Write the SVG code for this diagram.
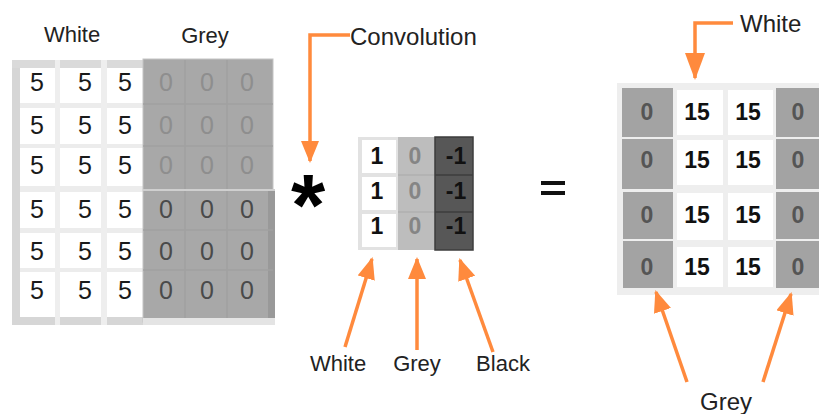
<svg xmlns="http://www.w3.org/2000/svg" width="819" height="414" viewBox="0 0 819 414">
<defs>
<marker id="ah" viewBox="0 0 22 18" refX="20" refY="9" markerWidth="22" markerHeight="18" markerUnits="userSpaceOnUse" orient="auto">
<path d="M0,0 L22,9 L0,18 z" fill="#ff8a3d"/>
</marker>
<marker id="ahL" viewBox="0 0 27 20" refX="25" refY="10" markerWidth="27" markerHeight="20" markerUnits="userSpaceOnUse" orient="auto">
<path d="M0,0 L27,10 L0,20 z" fill="#ff8a3d"/>
</marker>
</defs>
<style>
text{font-family:"Liberation Sans",Arial,sans-serif;}
.lbl{font-size:22px;fill:#222;}
.big{font-size:24px;fill:#222;}
.five{font-size:25px;fill:#1a1a1a;text-anchor:middle;}
.z1{font-size:25px;fill:#8e8e8e;text-anchor:middle;}
.z2{font-size:25px;fill:#4a4a4a;text-anchor:middle;}
.wc{fill:#ffffff;}
.k{font-size:23px;font-weight:bold;text-anchor:middle;}
.r15{font-size:23px;font-weight:bold;fill:#111;text-anchor:middle;}
.r0{font-size:23px;font-weight:bold;fill:#555;text-anchor:middle;}
.arr{fill:none;stroke:#ff8a3d;stroke-width:3.5;}
</style>
<rect width="819" height="414" fill="#ffffff"/>

<g id="input-image">
<rect x="12" y="60" width="131" height="265" fill="#ececec"/>
<rect x="12" y="60" width="8" height="265" fill="#d6d6d6"/>
<rect x="12" y="60" width="131" height="8" fill="#dadada"/>
<rect x="12" y="317" width="131" height="8" fill="#d6d6d6"/>
<rect x="55" y="60" width="5" height="265" fill="#eeeeee"/>
<rect x="101" y="60" width="6" height="265" fill="#eeeeee"/>
<g class="wc">
<rect x="20" y="68" width="35" height="35"/><rect x="60" y="68" width="41" height="35"/><rect x="107" y="68" width="36" height="35"/>
<rect x="20" y="108" width="35" height="36"/><rect x="60" y="108" width="41" height="36"/><rect x="107" y="108" width="36" height="36"/>
<rect x="20" y="148" width="35" height="38"/><rect x="60" y="148" width="41" height="38"/><rect x="107" y="148" width="36" height="38"/>
<rect x="20" y="192" width="35" height="36"/><rect x="60" y="192" width="41" height="36"/><rect x="107" y="192" width="36" height="36"/>
<rect x="20" y="233" width="35" height="35"/><rect x="60" y="233" width="41" height="35"/><rect x="107" y="233" width="36" height="35"/>
<rect x="20" y="272" width="35" height="45"/><rect x="60" y="272" width="41" height="45"/><rect x="107" y="272" width="36" height="45"/>
</g>
<rect x="143" y="59" width="130" height="263" fill="#a8a8a8" stroke="#c4c4c4" stroke-width="1"/>
<rect x="268" y="190" width="7" height="135" fill="#999999"/>
<rect x="143" y="318" width="132" height="7" fill="#e4e4e4"/>
<g stroke="#a0a0a0" stroke-width="1.5">
<line x1="185" y1="60" x2="185" y2="318"/>
<line x1="227" y1="60" x2="227" y2="318"/>
<line x1="143" y1="104" x2="273" y2="104"/>
<line x1="143" y1="146" x2="273" y2="146"/>
<line x1="143" y1="230" x2="273" y2="230"/>
<line x1="143" y1="270" x2="273" y2="270"/>
</g>
<line x1="143" y1="190" x2="275" y2="190" stroke="#cfcfcf" stroke-width="2"/>
<g>
<text class="five" x="37" y="91">5</text><text class="five" x="85" y="91">5</text><text class="five" x="125" y="91">5</text>
<text class="five" x="37" y="134">5</text><text class="five" x="85" y="134">5</text><text class="five" x="125" y="134">5</text>
<text class="five" x="37" y="174">5</text><text class="five" x="85" y="174">5</text><text class="five" x="125" y="174">5</text>
<text class="five" x="37" y="218">5</text><text class="five" x="85" y="218">5</text><text class="five" x="125" y="218">5</text>
<text class="five" x="37" y="260">5</text><text class="five" x="85" y="260">5</text><text class="five" x="125" y="260">5</text>
<text class="five" x="37" y="299">5</text><text class="five" x="85" y="299">5</text><text class="five" x="125" y="299">5</text>
<text class="z1" x="166" y="91">0</text><text class="z1" x="207" y="91">0</text><text class="z1" x="247" y="91">0</text>
<text class="z1" x="166" y="134">0</text><text class="z1" x="207" y="134">0</text><text class="z1" x="247" y="134">0</text>
<text class="z1" x="166" y="174">0</text><text class="z1" x="207" y="174">0</text><text class="z1" x="247" y="174">0</text>
<text class="z2" x="166" y="218">0</text><text class="z2" x="207" y="218">0</text><text class="z2" x="247" y="218">0</text>
<text class="z2" x="166" y="260">0</text><text class="z2" x="207" y="260">0</text><text class="z2" x="247" y="260">0</text>
<text class="z2" x="166" y="299">0</text><text class="z2" x="207" y="299">0</text><text class="z2" x="247" y="299">0</text>
</g>
<text class="lbl" x="72" y="42" text-anchor="middle">White</text>
<text class="lbl" x="205" y="43" text-anchor="middle">Grey</text>
</g>

<g id="convolution-operator">
<text x="308" y="235" font-size="88" font-weight="bold" fill="#000" text-anchor="middle">*</text>
<text class="big" x="350" y="45">Convolution</text>
</g>

<g id="kernel">
<rect x="358" y="137" width="40" height="113" fill="#e2e2e2"/>
<rect x="362" y="140" width="34" height="33" fill="#fff"/>
<rect x="362" y="177" width="34" height="33" fill="#fff"/>
<rect x="362" y="214" width="34" height="33" fill="#fff"/>
<rect x="398" y="137" width="37" height="113" fill="#bdbdbd"/>
<g stroke="#b0b0b0" stroke-width="1.5"><line x1="398" y1="175" x2="435" y2="175"/><line x1="398" y1="212" x2="435" y2="212"/></g>
<rect x="435" y="137" width="38" height="113" fill="#575757" stroke="#3c3c3c" stroke-width="1.5"/>
<g stroke="#3c3c3c" stroke-width="1.5"><line x1="435" y1="175" x2="473" y2="175"/><line x1="435" y1="212" x2="473" y2="212"/></g>
<text class="k" x="377" y="164" fill="#111">1</text><text class="k" x="377" y="199" fill="#111">1</text><text class="k" x="377" y="234" fill="#111">1</text>
<text class="k" x="415" y="164" fill="#858585" font-weight="normal">0</text><text class="k" x="415" y="199" fill="#858585" font-weight="normal">0</text><text class="k" x="415" y="234" fill="#858585" font-weight="normal">0</text>
<text class="k" x="456" y="164" fill="#111" font-weight="normal">-1</text><text class="k" x="456" y="199" fill="#111" font-weight="normal">-1</text><text class="k" x="456" y="234" fill="#111" font-weight="normal">-1</text>
</g>

<g id="equals">
<rect x="541" y="181" width="24" height="4" fill="#111"/>
<rect x="541" y="191" width="24" height="4" fill="#111"/>
</g>

<g id="output">
<rect x="617" y="83" width="210" height="212" fill="#eeeeee"/>
<g fill="#a3a3a3">
<rect x="622" y="88" width="51" height="49"/><rect x="622" y="139" width="51" height="50"/><rect x="623" y="192" width="50" height="47"/><rect x="623" y="241" width="50" height="47"/>
<rect x="776" y="88" width="50" height="49"/><rect x="776" y="139" width="50" height="50"/><rect x="776" y="192" width="50" height="47"/><rect x="776" y="241" width="50" height="47"/>
</g>
<g class="wc">
<rect x="677" y="90" width="46" height="45"/><rect x="728" y="90" width="45" height="45"/>
<rect x="677" y="140" width="46" height="45"/><rect x="728" y="140" width="45" height="45"/>
<rect x="677" y="193" width="46" height="47"/><rect x="728" y="193" width="45" height="47"/>
<rect x="677" y="247" width="46" height="40"/><rect x="728" y="247" width="45" height="40"/>
</g>
<text class="r0" x="647" y="120">0</text><text class="r15" x="697" y="120">15</text><text class="r15" x="748" y="120">15</text><text class="r0" x="798" y="120">0</text>
<text class="r0" x="647" y="168">0</text><text class="r15" x="697" y="168">15</text><text class="r15" x="748" y="168">15</text><text class="r0" x="798" y="168">0</text>
<text class="r0" x="647" y="223">0</text><text class="r15" x="697" y="223">15</text><text class="r15" x="748" y="223">15</text><text class="r0" x="798" y="223">0</text>
<text class="r0" x="647" y="275">0</text><text class="r15" x="697" y="275">15</text><text class="r15" x="748" y="275">15</text><text class="r0" x="798" y="275">0</text>
</g>

<g id="labels">
<text class="lbl" x="338" y="371" text-anchor="middle">White</text>
<text class="lbl" x="417" y="371" text-anchor="middle">Grey</text>
<text class="lbl" x="503" y="371" text-anchor="middle">Black</text>
<text class="big" x="740" y="32">White</text>
<text class="big" x="700" y="410">Grey</text>
</g>

<g id="connectors">
<path class="arr" d="M350,35 H310 V161" marker-end="url(#ah)"/>
<path class="arr" d="M345,347 L372,259" marker-end="url(#ah)"/>
<path class="arr" d="M417,350 L417,259" marker-end="url(#ah)"/>
<path class="arr" d="M493,352 L460,260" marker-end="url(#ah)"/>
<path class="arr" d="M733,23 H695 V78" marker-end="url(#ahL)"/>
<path class="arr" d="M687,382 L656,292" marker-end="url(#ah)"/>
<path class="arr" d="M763,382 L791,294" marker-end="url(#ah)"/>
</g>
</svg>
